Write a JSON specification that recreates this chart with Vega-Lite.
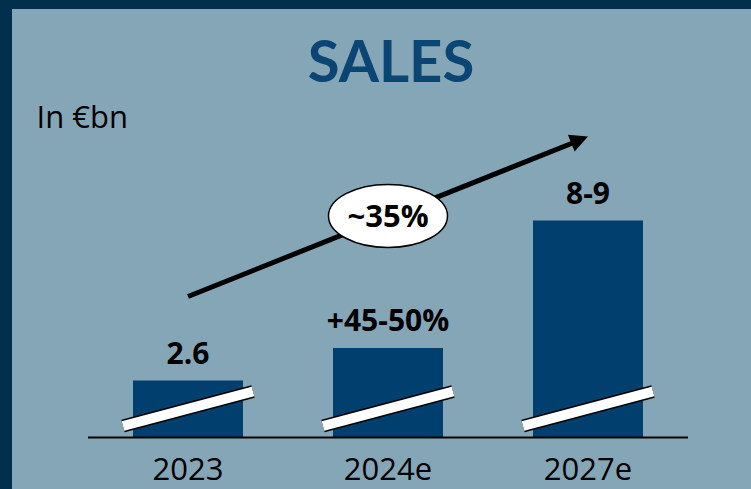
{
  "$schema": "https://vega.github.io/schema/vega-lite/v6.json",
  "width": 751,
  "height": 489,
  "autosize": {"type": "fit", "contains": "padding"},
  "padding": {"left": 12, "top": 9, "right": 0, "bottom": 0},
  "background": "#022f4c",
  "config": {"view": {"fill": "#85a6b7", "stroke": null}, "font": "Open Sans"},
  "data": {
    "values": [
      {"year": "2023", "sales": 2.6, "label": "2.6"},
      {"year": "2024e", "sales": 3.8, "label": "+45-50%"},
      {"year": "2027e", "sales": 8.5, "label": "8-9"}
    ]
  },
  "layer": [
    {
      "mark": {"type": "bar", "color": "#003f6e"},
      "encoding": {
        "x": {
          "field": "year",
          "type": "nominal",
          "sort": null,
          "scale": {"range": [13, 739], "paddingInner": 0.45, "paddingOuter": 0.54},
          "axis": null
        },
        "y": {
          "field": "sales",
          "type": "quantitative",
          "scale": {"domain": [-1.4, 16.3], "nice": false, "zero": false},
          "axis": {
            "title": "In €bn",
            "labels": false,
            "ticks": false,
            "domain": false,
            "grid": false,
            "minExtent": 0,
            "maxExtent": 0,
            "titleAngle": 0,
            "titleX": 24,
            "titleY": 118,
            "titleAlign": "left",
            "titleBaseline": "alphabetic",
            "titleFont": "Open Sans",
            "titleFontSize": 31,
            "titleFontWeight": "normal",
            "titleColor": "#000000"
          }
        },
        "y2": {"datum": 0.5}
      }
    },
    {
      "mark": {"type": "text", "fontSize": 30, "fontWeight": "bold", "baseline": "alphabetic", "dy": -17, "color": "#000000"},
      "encoding": {
        "x": {"field": "year", "type": "nominal", "sort": null},
        "y": {"field": "sales", "type": "quantitative"},
        "text": {"field": "label"}
      }
    },
    {
      "data": {"values": [{"note": "axis line"}]},
      "mark": {"type": "rule", "color": "#000000", "strokeWidth": 2, "xOffset": -100, "x2Offset": 100},
      "encoding": {
        "x": {"datum": "2023", "type": "nominal"},
        "x2": {"datum": "2027e"},
        "y": {"datum": 0.5, "type": "quantitative"}
      }
    },
    {
      "mark": {"type": "rule", "color": "#000000", "strokeWidth": 13, "strokeCap": "butt", "xOffset": -65, "x2Offset": 65},
      "encoding": {
        "x": {"field": "year", "type": "nominal", "sort": null},
        "x2": {"field": "year"},
        "y": {"datum": 0.924, "type": "quantitative"},
        "y2": {"datum": 2.196}
      }
    },
    {
      "mark": {"type": "rule", "color": "#ffffff", "strokeWidth": 10, "strokeCap": "butt", "xOffset": -65, "x2Offset": 65},
      "encoding": {
        "x": {"field": "year", "type": "nominal", "sort": null},
        "x2": {"field": "year"},
        "y": {"datum": 0.924, "type": "quantitative"},
        "y2": {"datum": 2.196}
      }
    },
    {
      "mark": {"type": "text", "fontSize": 31, "baseline": "alphabetic", "dy": 43, "color": "#000000"},
      "encoding": {
        "x": {"field": "year", "type": "nominal", "sort": null},
        "y": {"datum": 0.5, "type": "quantitative"},
        "text": {"field": "year"}
      }
    },
    {
      "data": {"values": [{"title": "SALES"}]},
      "mark": {"type": "text", "font": "Lato", "fontSize": 58, "fontWeight": "bold", "baseline": "alphabetic", "dx": 3, "color": "#0b4574"},
      "encoding": {
        "x": {"datum": "2024e", "type": "nominal"},
        "y": {"datum": 13.62, "type": "quantitative"},
        "text": {"field": "title"}
      }
    },
    {
      "data": {"values": [{"note": "growth arrow"}]},
      "mark": {"type": "rule", "color": "#000000", "strokeWidth": 5, "strokeCap": "butt", "x2Offset": -9, "y2Offset": 4},
      "encoding": {
        "x": {"datum": "2023", "type": "nominal"},
        "x2": {"datum": "2027e"},
        "y": {"datum": 5.7, "type": "quantitative"},
        "y2": {"datum": 11.6}
      }
    },
    {
      "data": {"values": [{"note": "arrow head"}]},
      "mark": {"type": "point", "shape": "M0,0 L-1,-0.5 L-1,0.5 Z", "size": 1296, "angle": -21.8, "filled": true, "color": "#000000", "opacity": 1},
      "encoding": {
        "x": {"datum": "2027e", "type": "nominal"},
        "y": {"datum": 11.6, "type": "quantitative"}
      }
    },
    {
      "data": {"values": [{"cagr": "~35%"}]},
      "mark": {"type": "point", "shape": "M-1,0 A1,0.53 0 1 1 1,0 A1,0.53 0 1 1 -1,0 Z", "size": 14161, "filled": true, "fill": "#ffffff", "stroke": "#000000", "strokeWidth": 1.5, "opacity": 1},
      "encoding": {
        "x": {"datum": "2024e", "type": "nominal"},
        "y": {"datum": 8.67, "type": "quantitative"}
      }
    },
    {
      "data": {"values": [{"cagr": "~35%"}]},
      "mark": {"type": "text", "fontSize": 31, "fontWeight": "bold", "baseline": "middle", "dy": 2, "color": "#000000"},
      "encoding": {
        "x": {"datum": "2024e", "type": "nominal"},
        "y": {"datum": 8.67, "type": "quantitative"},
        "text": {"field": "cagr"}
      }
    }
  ]
}
